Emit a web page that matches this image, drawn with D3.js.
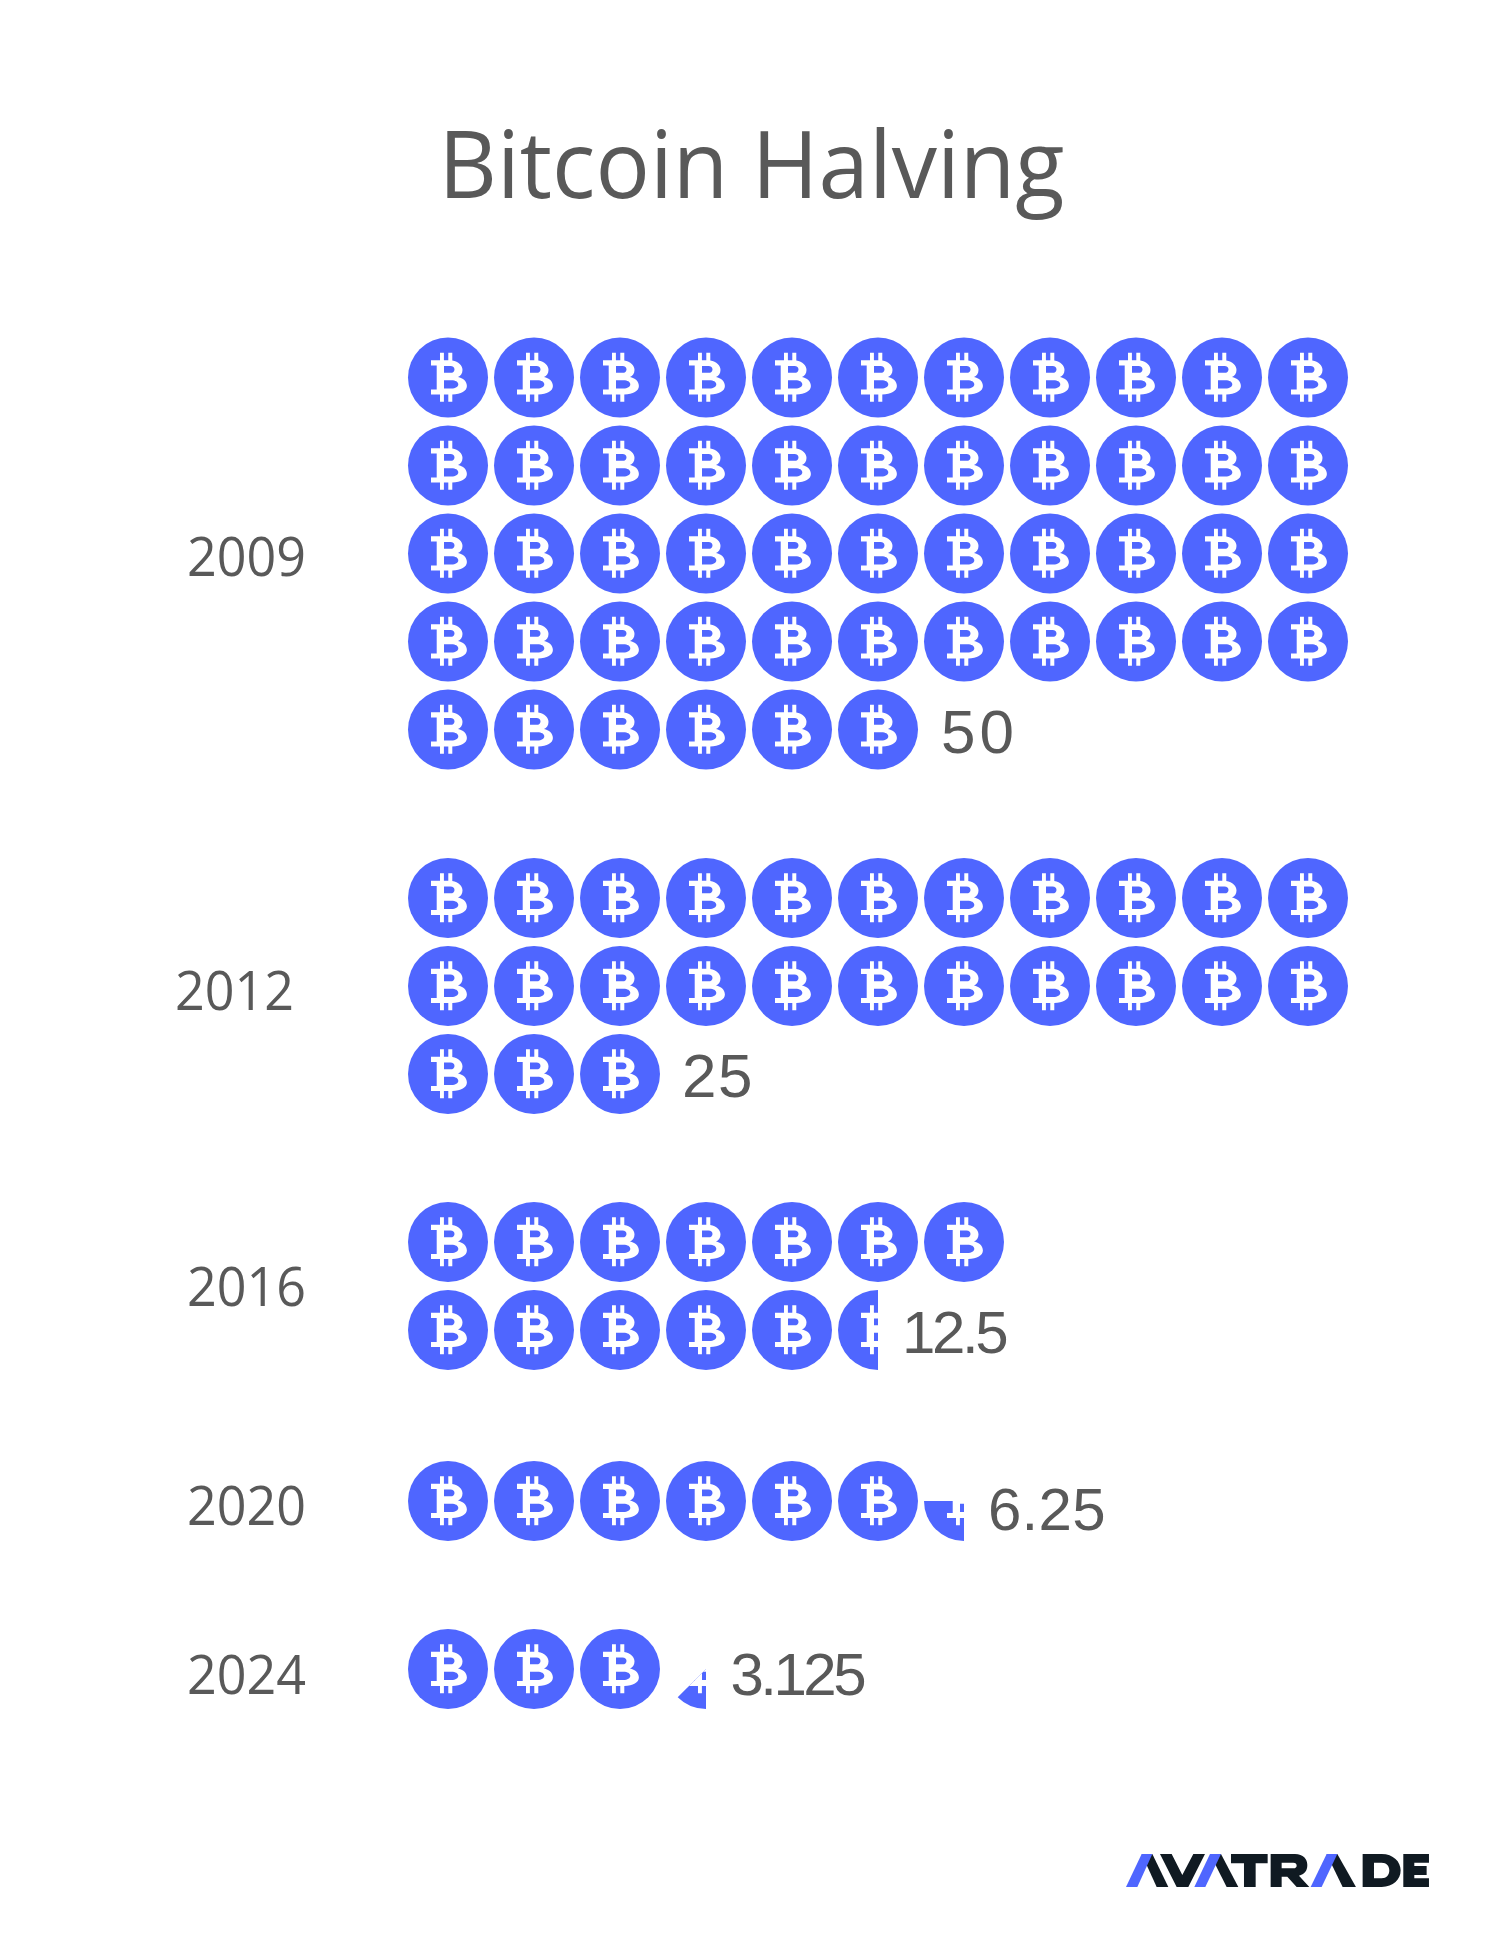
<!DOCTYPE html>
<html>
<head>
<meta charset="utf-8">
<title>Bitcoin Halving</title>
<script src="https://cdn.jsdelivr.net/npm/d3@7"></script>
<style>
  body { margin: 0; background: #fff; }
  svg { display: block; }
</style>
</head>
<body>
<script>
// data
var years = ["2009", "2012", "2016", "2020", "2024"];
var rewards = [50, 25, 12.5, 6.25, 3.125];
var rewardLabels = ["50", "25", "12.5", "6.25", "3.125"];
var coinsPerRow = [11, 11, 7, 11, 11];

// layout, set by hand per label like the original
var groupY = [377.5, 898, 1242, 1501, 1669];
var rowPitch = 88;
var yearX = [187, 175, 187, 187, 187];
var yearBaseline = [576, 1010, 1305.5, 1524.5, 1693.5];
var rewardDy = [23.5, 22.5, 22.5, 29, 26];
var rewardGap = [23, 22, 24, 24, 24.5];
var rewardSize = [62, 62, 60, 60, 60];
var rewardLength = [73, 70.5, 106.5, 117.5, 136];

var width = 1506, height = 1947, radius = 40;
var blue = "#4f66ff", grey = "#595959", dark = "#101a22";

var svg = d3.select("body").append("svg")
    .attr("width", width)
    .attr("height", height);

// one slot = one BTC of block reward
var x = d3.scaleLinear().domain([0, 10]).range([448, 1308]);

// wedge starts at 6 o'clock and runs clockwise, so 0.5 is the left half, 0.25 the lower left
var wedge = d3.arc()
    .innerRadius(0)
    .outerRadius(radius)
    .startAngle(Math.PI)
    .endAngle(function (d) { return Math.PI + d.fraction * 2 * Math.PI; });

// upright bitcoin sign, centred on the coin
var glyph = "M-17,-17.3H-8V-24.7H-4.1V-17.3H0.3V-24.7H4.3V-17C10.5,-16 14.5,-12 14.5,-7.5C14.5,-4 12.5,-1.5 10,-0.5" +
    "C15,0.5 18.9,3.5 18.9,8.5C18.9,13.5 13,16.9 4.3,17V24.3H0.3V17H-4.1V24.3H-8V16.9H-17V12H-11.3V-12.1H-17Z" +
    "M-4,-11.5V-4.7H2.5C5,-4.7 6.5,-6.2 6.5,-8.1C6.5,-10 5,-11.5 2.5,-11.5Z" +
    "M-4,2.7V11H3.5C7.5,11 10.3,9.3 10.3,6.8C10.3,4.3 7.5,2.7 3.5,2.7Z";

// title
svg.append("text")
    .attr("x", 438.5)
    .attr("y", 197.5)
    .attr("textLength", 626)
    .attr("lengthAdjust", "spacingAndGlyphs")
    .style("font-family", "'Open Sans'")
    .style("font-size", "94px")
    .style("fill", grey)
    .text("Bitcoin Halving");

years.forEach(function (year, g) {
    var reward = rewards[g], coins = [];
    for (var i = 0; i < Math.ceil(reward); i++) {
        coins.push({
            col: i % coinsPerRow[g],
            row: Math.floor(i / coinsPerRow[g]),
            fraction: Math.min(1, reward - i),
            id: "clip-" + g + "-" + i
        });
    }
    var rowY = function (r) { return groupY[g] + rowPitch * r; };

    var coin = svg.selectAll(null)
        .data(coins)
        .enter()
        .append("g")
        .attr("transform", function (d) { return "translate(" + x(d.col) + "," + rowY(d.row) + ")"; });

    coin.append("path")
        .attr("d", wedge)
        .style("fill", blue);

    // partial coins cut the sign along the same wedge
    coin.filter(function (d) { return d.fraction < 1; })
        .append("clipPath")
        .attr("id", function (d) { return d.id; })
        .append("path")
        .attr("d", wedge);

    coin.append("path")
        .attr("d", glyph)
        .attr("fill-rule", "evenodd")
        .attr("clip-path", function (d) { return d.fraction < 1 ? "url(#" + d.id + ")" : null; })
        .style("fill", "#fff");

    // year on the left
    svg.append("text")
        .attr("x", yearX[g])
        .attr("y", yearBaseline[g])
        .attr("textLength", 119)
        .attr("lengthAdjust", "spacingAndGlyphs")
        .style("font-family", "'Open Sans'")
        .style("font-size", "55px")
        .style("fill", grey)
        .text(year);

    // reward next to the last coin
    var last = coins[coins.length - 1];
    var edge = x(last.col) + (last.fraction < 1 ? 0 : radius);
    svg.append("text")
        .attr("x", edge + rewardGap[g])
        .attr("y", rowY(last.row) + rewardDy[g])
        .attr("textLength", rewardLength[g])
        .style("font-family", "'Liberation Sans'")
        .style("font-size", rewardSize[g] + "px")
        .style("fill", grey)
        .text(rewardLabels[g]);
});

// AVATRADE logo, traced at 3x from the corner of the picture
var logo = svg.append("g")
    .attr("transform", "translate(1120,1845) scale(0.3333)")
    .attr("aria-label", "AVATRADE");

var logoDark = [
    "M65,27H97L145,126H110Z",                   // A leg
    "M120,27H155L187,90L220,27H255L205,126H170Z", // V
    "M270,27H303L355,126H320Z",                 // A leg
    "M333,27H443V55H407V126H372V55H333Z",       // T
    // R
    "M452,27H525C550,27 562,42 562,60C562,78 553,88 537,92L568,126H530L502,95H485V126H452Z" +
    "M485,53V70H520C527,70 530,66 530,62C530,57 527,53 520,53Z",
    "M620,27H652L708,126H668Z",                 // A leg
    // D
    "M728,27H785C820,27 842,50 842,76C842,104 820,126 785,126H728Z" +
    "M762,53V100H785C800,100 808,90 808,76C808,63 800,53 785,53Z",
    "M850,27H927V53H883V63H920V90H883V100H927V126H850Z" // E
];
var logoBlue = [
    "M18,126H52L97,27H65Z",
    "M223,126H256L303,27H270Z",
    "M572,126H605L652,27H620Z"
];

logo.selectAll(null)
    .data(logoDark)
    .enter()
    .append("path")
    .attr("d", function (d) { return d; })
    .attr("fill-rule", "evenodd")
    .style("fill", dark);

logo.selectAll(null)
    .data(logoBlue)
    .enter()
    .append("path")
    .attr("d", function (d) { return d; })
    .style("fill", blue);
</script>
</body>
</html>
